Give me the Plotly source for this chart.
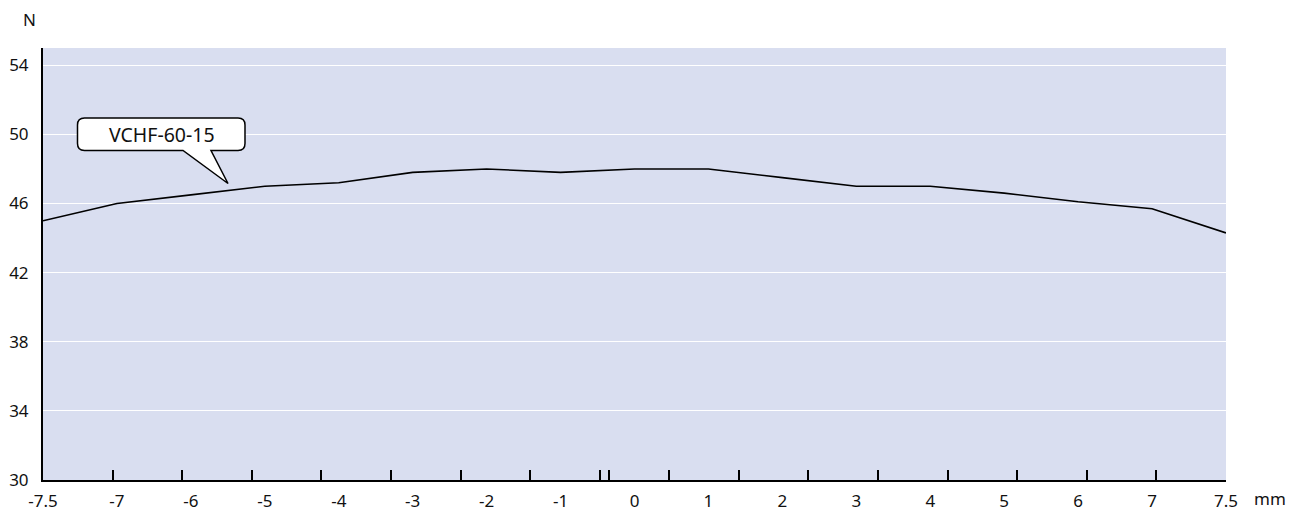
import plotly.graph_objects as go

# ---- data ----
x_labels = ["-7.5", "-7", "-6", "-5", "-4", "-3", "-2", "-1", "0",
            "1", "2", "3", "4", "5", "6", "7", "7.5"]
force_n = [45.0, 46.0, 46.5, 47.0, 47.2, 47.8, 48.0, 47.8, 48.0,
           48.0, 47.5, 47.0, 47.0, 46.6, 46.1, 45.7, 44.3]
series_name = "VCHF-60-15"
y_ticks = [30, 34, 38, 42, 46, 50, 54]
tick_marks = list(range(0, 18)) + [8.13]

W, H = 1300, 510
OFF = 8  # page offset of the figure in the screenshot
L, R, T, B = 35, 82, 40, 38
PW, PH = W - L - R, H - T - B
FONT = "Noto Sans"
FS = 17
TXT = "#111111"


def px(xp, yp):
    """screenshot pixel -> paper coordinates"""
    return (xp - OFF - L) / PW, (H - B - (yp - OFF)) / PH


def bubble_path():
    x0, y0, x1, y1, r = 77.5, 118, 245, 150.5, 7
    pts = []
    def P(cmd, *xy):
        s = cmd
        for i in range(0, len(xy), 2):
            a, b = px(xy[i], xy[i + 1])
            s += f" {a:.5f},{b:.5f}"
        pts.append(s)
    P("M", x0 + r, y0)
    P("L", x1 - r, y0)
    P("Q", x1, y0, x1, y0 + r)
    P("L", x1, y1 - r)
    P("Q", x1, y1, x1 - r, y1)
    P("L", 211, y1)
    P("L", 228, 183.5)
    P("L", 183, y1)
    P("L", x0 + r, y1)
    P("Q", x0, y1, x0, y1 - r)
    P("L", x0, y0 + r)
    P("Q", x0, y0, x0 + r, y0)
    return " ".join(pts) + " Z"


fig = go.Figure()
fig.add_trace(go.Scatter(
    x=x_labels, y=force_n, mode="lines", name=series_name,
    line=dict(color="black", width=1.6), showlegend=False,
))
# helper trace so the tick-mark axis renders
fig.add_trace(go.Scatter(
    x=[0, 17], y=[30, 30], xaxis="x2", mode="lines",
    line=dict(width=0, color="rgba(0,0,0,0)"), hoverinfo="skip", showlegend=False,
))

bx, by = px(161.5, 134.5)
nx, ny = px(29, 20)
mx, my = px(1270, 499)

fig.update_layout(
    width=W, height=H,
    margin=dict(l=L, r=R, t=T, b=B, pad=0, autoexpand=False),
    paper_bgcolor="white",
    plot_bgcolor="#d9def0",
    font=dict(family=FONT, size=FS, color=TXT),
    xaxis=dict(
        type="category", categoryorder="array", categoryarray=x_labels,
        range=[-0.0001, len(x_labels) - 1 + 0.0001], automargin=False,
        showgrid=False, zeroline=False, ticks="", showline=True,
        linecolor="black", linewidth=2, tickfont=dict(size=FS, family=FONT, color=TXT),
        ticklabelstandoff=5,
    ),
    xaxis2=dict(
        overlaying="x", anchor="y", side="bottom", range=[0, 17], automargin=False,
        tickvals=tick_marks, showticklabels=False, ticks="inside",
        ticklen=10, tickwidth=1.6, tickcolor="black",
        showgrid=False, zeroline=False, showline=False,
    ),
    yaxis=dict(
        range=[30, 55], tickvals=y_ticks, showgrid=True, gridcolor="white",
        gridwidth=1.2, zeroline=False, showline=True, linecolor="black",
        linewidth=2, ticks="", tickfont=dict(size=FS, family=FONT, color=TXT),
        ticklabelstandoff=9, automargin=False,
    ),
    shapes=[dict(type="path", xref="paper", yref="paper", path=bubble_path(),
                 fillcolor="white", line=dict(color="black", width=1.5), layer="above")],
    annotations=[
        dict(text=series_name, x=bx, y=by, xref="paper", yref="paper",
             showarrow=False, font=dict(size=19.5, family=FONT, color=TXT),
             xanchor="center", yanchor="middle"),
        dict(text="N", x=nx, y=ny, xref="paper", yref="paper", showarrow=False,
             font=dict(size=FS, family=FONT, color=TXT), xanchor="center", yanchor="middle"),
        dict(text="mm", x=mx, y=my, xref="paper", yref="paper", showarrow=False,
             font=dict(size=FS, family=FONT, color=TXT), xanchor="center", yanchor="middle"),
    ],
)

fig.write_html("out.html")
